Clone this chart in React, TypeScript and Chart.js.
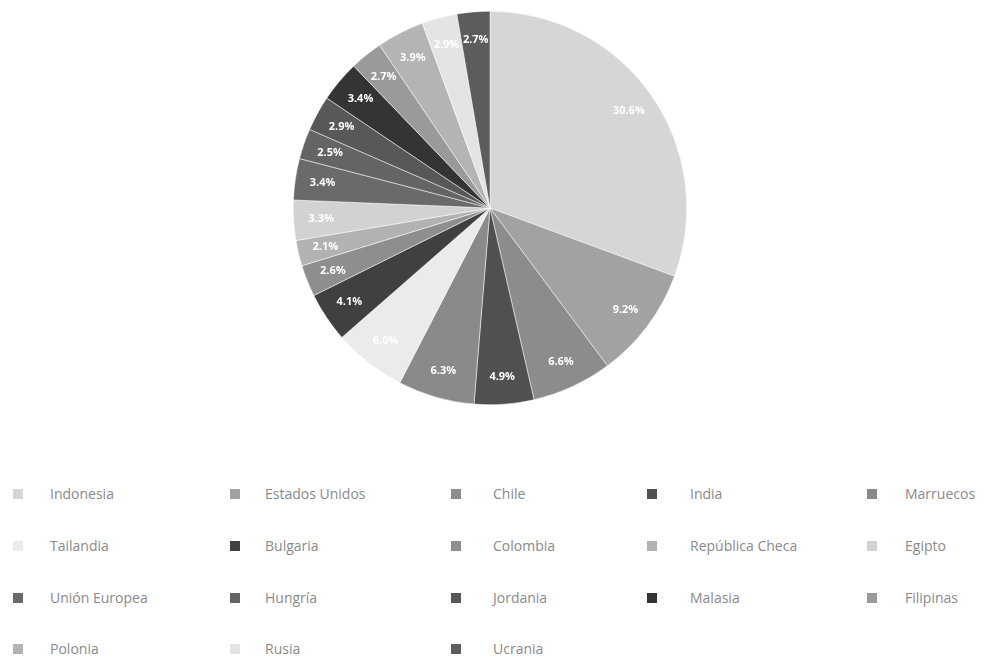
import React, { useEffect, useRef } from "react";
import { Chart, registerables } from "chart.js";

Chart.register(...registerables);

const countries = [
  "Indonesia", "Estados Unidos", "Chile", "India", "Marruecos",
  "Tailandia", "Bulgaria", "Colombia", "República Checa", "Egipto",
  "Unión Europea", "Hungría", "Jordania", "Malasia", "Filipinas",
  "Polonia", "Rusia", "Ucrania",
];

const shares = [
  30.7, 9.2, 6.6, 4.9, 6.3,
  6.0, 4.1, 2.6, 2.1, 3.3,
  3.4, 2.5, 2.9, 3.4, 2.7,
  3.9, 2.9, 2.7,
];

const colors = [
  "#d6d6d6", "#a2a2a2", "#8c8c8c", "#505050", "#8a8a8a",
  "#ebebeb", "#404040", "#8e8e8e", "#b2b2b2", "#d2d2d2",
  "#6a6a6a", "#646464", "#585858", "#343434", "#9a9a9a",
  "#b4b4b4", "#e4e4e4", "#5c5c5c",
];

const swatchX = [13, 230, 451, 647, 867];
const textX = [50, 265, 493, 690, 905];
const rowY = [494, 546, 598, 649];

const sliceLabels = {
  id: "sliceLabels",
  afterDatasetsDraw(chart: any) {
    const meta = chart.getDatasetMeta(0);
    const data = chart.data.datasets[0].data as number[];
    const total = data.reduce((a, b) => a + b, 0);
    const ctx = chart.ctx;
    ctx.save();
    ctx.font = "bold 11px 'Open Sans', sans-serif";
    ctx.fillStyle = "#ffffff";
    ctx.textAlign = "center";
    ctx.textBaseline = "middle";
    meta.data.forEach((arc: any, i: number) => {
      const mid = (arc.startAngle + arc.endAngle) / 2;
      const r = arc.outerRadius * 0.86;
      const x = arc.x + Math.cos(mid) * r;
      const y = arc.y + Math.sin(mid) * r;
      const pct = ((data[i] / total) * 100).toFixed(1) + "%";
      ctx.fillText(pct, x, y);
    });
    ctx.restore();
  },
};

export default function App() {
  const ref = useRef<HTMLCanvasElement | null>(null);

  useEffect(() => {
    if (!ref.current) return;
    const chart = new Chart(ref.current, {
      type: "pie",
      data: {
        labels: countries,
        datasets: [
          {
            data: shares,
            backgroundColor: colors,
            borderColor: "#ffffff",
            borderWidth: 0.5,
          },
        ],
      },
      options: {
        animation: false,
        responsive: false,
        maintainAspectRatio: false,
        layout: { padding: { top: 3, bottom: 3, left: 0, right: 14 } },
        plugins: {
          legend: { display: false },
          tooltip: { enabled: false },
        },
      },
      plugins: [sliceLabels],
    });
    return () => chart.destroy();
  }, []);

  return (
    <div
      style={{
        position: "relative",
        width: 978,
        height: 646,
        fontFamily: "'Open Sans', sans-serif",
      }}
    >
      <canvas
        ref={ref}
        width={978}
        height={400}
        style={{ position: "absolute", left: 0, top: 0, width: 978, height: 400 }}
      />
      {countries.map((name, i) => {
        const col = i % 5;
        const row = Math.floor(i / 5);
        const cy = rowY[row] - 8;
        return (
          <React.Fragment key={name}>
            <div
              style={{
                position: "absolute",
                left: swatchX[col] - 8,
                top: cy - 5,
                width: 10,
                height: 10,
                background: colors[i],
              }}
            />
            <div
              style={{
                position: "absolute",
                left: textX[col] - 8,
                top: cy - 10,
                height: 20,
                lineHeight: "20px",
                fontSize: 14,
                color: "#8a8a8a",
                whiteSpace: "nowrap",
              }}
            >
              {name}
            </div>
          </React.Fragment>
        );
      })}
    </div>
  );
}
